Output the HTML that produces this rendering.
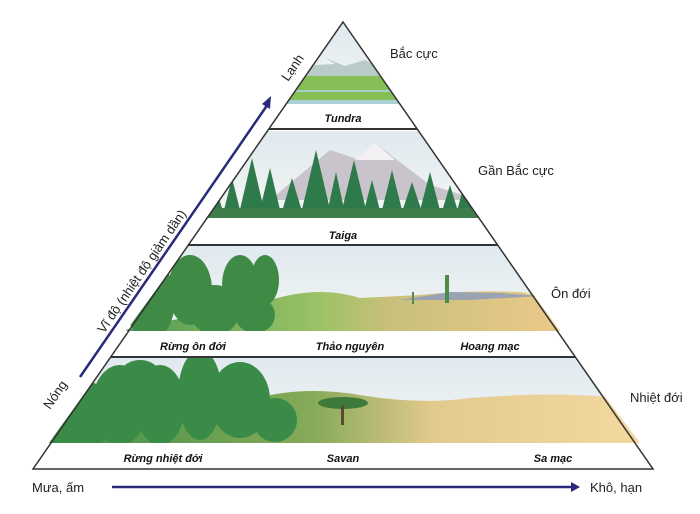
<!DOCTYPE html>
<html><head><meta charset="utf-8"><style>
html,body{margin:0;padding:0;background:#fff;}
svg{display:block;}
text{font-family:"Liberation Sans",sans-serif;}
.lb{font-size:11px;font-weight:bold;font-style:italic;fill:#111;}
.zn{font-size:13px;fill:#222;}
</style></head><body>
<svg width="700" height="514" viewBox="0 0 700 514" xmlns="http://www.w3.org/2000/svg">
<defs>
<linearGradient id="sky" x1="0" y1="0" x2="0" y2="1"><stop offset="0" stop-color="#dfe9ef"/><stop offset="1" stop-color="#f4f6f4"/></linearGradient>
<linearGradient id="ground" x1="0" y1="0" x2="1" y2="0"><stop offset="0" stop-color="#4f9a52"/><stop offset="0.45" stop-color="#9cc266"/><stop offset="0.6" stop-color="#c8c07a"/><stop offset="1" stop-color="#ecc98a"/></linearGradient>
<linearGradient id="ground2" x1="0" y1="0" x2="1" y2="0"><stop offset="0" stop-color="#3e8f48"/><stop offset="0.45" stop-color="#86aa58"/><stop offset="0.65" stop-color="#e2c98c"/><stop offset="1" stop-color="#f3d9a0"/></linearGradient>
<clipPath id="c1"><polygon points="343,22 400,104 286,104"/></clipPath>
<clipPath id="c2"><polygon points="267,131 419,131 479,218 207,218"/></clipPath>
<clipPath id="c3"><polygon points="188,246 498,246 560,331 126,331"/></clipPath>
<clipPath id="c4"><polygon points="110,358 576,358 640,443 49,443"/></clipPath>
</defs>
<g clip-path="url(#c1)">
<rect x="280" y="22" width="130" height="82" fill="url(#sky)"/>
<polygon points="300,75 325,58 345,66 365,60 400,78 400,85 290,85" fill="#b9cbc8"/>
<polygon points="315,65 325,58 335,64" fill="#eef3f2"/>
<rect x="280" y="76" width="130" height="28" fill="#86bf55"/>
<rect x="280" y="90" width="130" height="2" fill="#a9cfc9"/>
<rect x="280" y="100" width="130" height="4" fill="#a8d0d6"/>
</g>
<g clip-path="url(#c2)">
<rect x="200" y="131" width="290" height="87" fill="url(#sky)"/>
<polygon points="270,200 330,150 360,160 375,143 430,185 480,200" fill="#c9c3cc"/>
<polygon points="355,160 375,143 395,160" fill="#f2f0f3"/>
<g fill="#2f7a4a">
<polygon points="222,218 232,178 242,218"/><polygon points="238,218 252,158 266,218"/><polygon points="258,218 270,168 282,218"/>
<polygon points="280,218 292,178 304,218"/><polygon points="300,218 316,150 332,218"/><polygon points="326,218 336,172 346,218"/>
<polygon points="340,218 354,160 368,218"/><polygon points="362,218 372,180 382,218"/><polygon points="380,218 392,170 404,218"/>
<polygon points="400,218 412,182 424,218"/><polygon points="418,218 430,172 442,218"/><polygon points="440,218 450,185 460,218"/>
<polygon points="455,218 466,178 477,218"/><polygon points="205,218 215,185 225,218"/>
</g>
<rect x="200" y="208" width="290" height="10" fill="#3f7d4a"/>
</g>
<g clip-path="url(#c3)">
<rect x="120" y="246" width="445" height="85" fill="url(#sky)"/>
<path d="M270,300 Q320,285 360,298 L420,295 Q470,290 520,292 L565,300 L565,331 L120,331 Z" fill="url(#ground)"/>
<path d="M400,300 L450,292 L500,293 L540,296 L470,300Z" fill="#9aa3b4"/>
<g fill="#3f8b45">
<ellipse cx="150" cy="300" rx="25" ry="40"/><ellipse cx="190" cy="290" rx="22" ry="35"/><ellipse cx="215" cy="310" rx="25" ry="25"/>
<ellipse cx="240" cy="285" rx="18" ry="30"/><ellipse cx="265" cy="280" rx="14" ry="25"/><ellipse cx="255" cy="315" rx="20" ry="18"/>
</g>
<rect x="445" y="275" width="4" height="28" fill="#4f8a4a"/>
<rect x="412" y="292" width="2" height="12" fill="#5a8a50"/>
</g>
<g clip-path="url(#c4)">
<rect x="45" y="358" width="600" height="85" fill="url(#sky)"/>
<path d="M250,400 Q300,385 360,395 Q420,405 470,398 L520,395 Q580,393 640,400 L640,443 L45,443 Z" fill="url(#ground2)"/>
<g fill="#3a8a48">
<ellipse cx="80" cy="415" rx="35" ry="35"/><ellipse cx="120" cy="405" rx="28" ry="40"/><ellipse cx="160" cy="405" rx="25" ry="40"/>
<ellipse cx="200" cy="395" rx="22" ry="45"/><ellipse cx="240" cy="400" rx="30" ry="38"/><ellipse cx="275" cy="420" rx="22" ry="22"/>
<ellipse cx="60" cy="430" rx="25" ry="15"/><ellipse cx="140" cy="375" rx="20" ry="15"/>
</g>
<ellipse cx="343" cy="403" rx="25" ry="6" fill="#3d7a3a"/>
<rect x="341" y="405" width="3" height="20" fill="#5a4a30"/>
</g>
<polygon points="343,22 653,469 33,469" fill="none" stroke="#333" stroke-width="1.5"/>
<line x1="269" y1="129" x2="417" y2="129" stroke="#333" stroke-width="2"/>
<line x1="188" y1="245" x2="498" y2="245" stroke="#333" stroke-width="2"/>
<line x1="111" y1="357" x2="575" y2="357" stroke="#333" stroke-width="2"/>
<text class="lb" x="343" y="122" text-anchor="middle">Tundra</text>
<text class="lb" x="343" y="239" text-anchor="middle">Taiga</text>
<text class="lb" x="193" y="350" text-anchor="middle">Rừng ôn đới</text>
<text class="lb" x="350" y="350" text-anchor="middle">Thảo nguyên</text>
<text class="lb" x="490" y="350" text-anchor="middle">Hoang mạc</text>
<text class="lb" x="163" y="462" text-anchor="middle">Rừng nhiệt đới</text>
<text class="lb" x="343" y="462" text-anchor="middle">Savan</text>
<text class="lb" x="553" y="462" text-anchor="middle">Sa mạc</text>
<text class="zn" x="390" y="58">Bắc cực</text>
<text class="zn" x="478" y="175">Gần Bắc cực</text>
<text class="zn" x="551" y="298">Ôn đới</text>
<text class="zn" x="630" y="402">Nhiệt đới</text>
<line x1="80" y1="377" x2="268" y2="104" stroke="#2a2a7a" stroke-width="2.5"/>
<polygon points="271,96 262,104 270,109" fill="#2a2a7a"/>
<text class="zn" transform="translate(104,334) rotate(-55.5)">Vĩ độ (nhiệt độ giảm dần)</text>
<text class="zn" transform="translate(50,410) rotate(-55.5)">Nóng</text>
<text class="zn" transform="translate(288,82) rotate(-55.5)">Lạnh</text>
<line x1="112" y1="487" x2="572" y2="487" stroke="#2a2a7a" stroke-width="2.5"/>
<polygon points="580,487 571,482 571,492" fill="#2a2a7a"/>
<text class="zn" x="32" y="492">Mưa, ấm</text>
<text class="zn" x="590" y="492">Khô, hạn</text>
</svg>
</body></html>
